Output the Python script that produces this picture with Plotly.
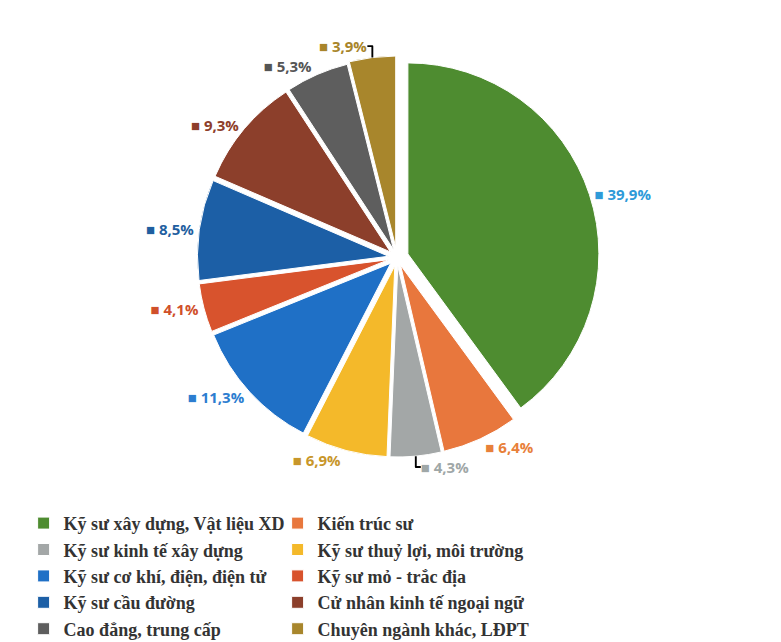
import plotly.graph_objects as go

categories = [
    "Kỹ sư xây dựng, Vật liệu XD",
    "Kiến trúc sư",
    "Kỹ sư kinh tế xây dựng",
    "Kỹ sư thuỷ lợi, môi trường",
    "Kỹ sư cơ khí, điện, điện tử",
    "Kỹ sư mỏ - trắc địa",
    "Kỹ sư cầu đường",
    "Cử nhân kinh tế ngoại ngữ",
    "Cao đẳng, trung cấp",
    "Chuyên ngành khác, LĐPT",
]
values = [39.9, 6.4, 4.3, 6.9, 11.3, 4.1, 8.5, 9.3, 5.3, 3.9]
slice_colors = ["#4E8C30", "#E8773D", "#A3A7A7", "#F4B92A", "#1F70C6",
                "#D8532D", "#1C5FA6", "#8C3F2B", "#5E5E5E", "#A8862C"]
label_colors = ["#2E9AD8", "#E8803A", "#9FA7A7", "#C8962A", "#2C7DD0",
                "#D0502A", "#1F5FA0", "#8E3E2A", "#555555", "#A8852A"]
pulls = [0.06, 0.045, 0.045, 0.045, 0.045, 0.045, 0.045, 0.045, 0.045, 0.055]

labels_text = ["■ " + f"{v:.1f}".replace(".", ",") + "%" for v in values]

fig = go.Figure(go.Pie(
    labels=categories,
    values=values,
    text=labels_text,
    textinfo="text",
    textposition="outside",
    textfont=dict(family="Open Sans, Liberation Sans, sans-serif", size=15,
                  color=label_colors, weight="bold"),
    marker=dict(colors=slice_colors, line=dict(color="white", width=1)),
    pull=pulls,
    sort=False,
    direction="clockwise",
    rotation=0,
    domain=dict(x=[0.0, 1.0], y=[0.0, 1.0]),
    showlegend=True,
))

fig.update_layout(
    width=781, height=642,
    margin=dict(l=0, r=0, t=0, b=0),
    paper_bgcolor="white",
    plot_bgcolor="white",
    legend=dict(
        orientation="h",
        xref="container", yref="container",
        x=0.02, y=0.226, xanchor="left", yanchor="top",
        entrywidth=0.5, entrywidthmode="fraction",
        font=dict(family="Liberation Serif, Times New Roman, serif", size=18,
                  color="#333333", weight="bold"),
        itemwidth=30,
        tracegroupgap=0,
    ),
)

fig.write_html("out.html")
